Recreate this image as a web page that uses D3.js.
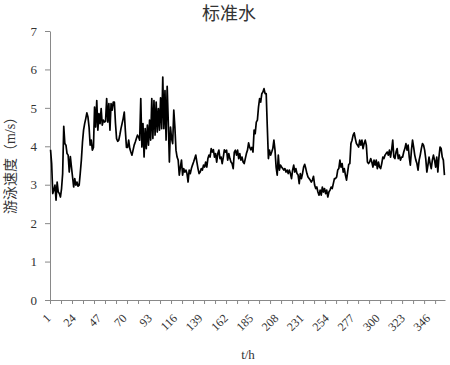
<!DOCTYPE html>
<html><head><meta charset="utf-8">
<script src="https://cdn.jsdelivr.net/npm/d3@7"></script>
<style>body{margin:0;background:#fff}svg{display:block}</style>
</head><body>
<script>
const title = "标准水";
const yTitle = "游泳速度（m/s）";
const xTitle = "t/h";
const yTicks = [0,1,2,3,4,5,6,7];
const xLabels = [1,24,47,70,93,116,139,162,185,208,231,254,277,300,323,346];
const seg1 = [3.91,3.55,2.77,2.86,2.99,2.6,3.07,2.81,2.77,2.68,
2.9,3.29,4.52,4.07,4.03,3.81,3.77,3.33,3.73,3.46,
3.2,2.94,3.16,2.99,3.07,2.96,2.99,3.3,3.64,4.1,
4.42,4.59,4.72,4.87,4.76,4.5,4.03,4.16,3.9,3.97,
5.02,4.5,5.19,4.42,4.85,4.59,4.98,4.55,4.68,4.63,
4.65,5.24,4.63,5.11,4.42,5.11,4.94,5.15,5.15,4.6,
4.2,4.13,4.16,4.3,4.46,4.59,4.72,4.89,4.4,3.97,
3.97,4.16,3.94,3.85,3.77,3.9,4.03,4.11,4.2,4.29,4.24];
const seg2 = [4.16,5.24,3.98,4.59,3.72,4.46,3.94,4.55,4.03,4.68,
4.16,5.24,4.2,5.19,4.29,5.15,4.37,4.98,4.42,5.26,
4.46,5.8,4.46,5.45,4.16,5.56,4.63,3.59,4.5,4.2,
4.07,4.94,4.5,3.9,3.72,3.64,3.25,3.46,3.64,3.25,
3.42,3.33,3.38,3.29,3.07,3.38,3.29,3.42,3.51,3.59,
3.68,3.77,3.59,3.42,3.29,3.33,3.42,3.38,3.51,3.46,
3.59,3.46,3.68,3.77,3.72,3.94,3.85,3.91,3.72,3.81,
3.59,3.81,3.9,3.68,3.72,3.55,3.72,3.91,3.85,3.9,
3.64,3.81,3.68,3.59,3.55,3.42,3.85,3.9,3.77,3.9,3.68];
const seg3 = [3.81,3.64,3.72,3.59,3.55,3.68,3.81,3.9,4.09,
3.97,3.91,3.97,3.85,4.42,4.33,4.63,4.68,5.02,
5.24,5.15,5.37,5.41,5.5,5.37,5.37,4.5,3.68,3.9,
3.77,3.85,3.94,4.16,3.9,3.46,3.25,3.77,3.38,3.51,
3.46,3.42,3.38,3.42,3.33,3.38,3.29,3.38,
3.29,3.16,3.38,3.51,3.33,3.42,3.29,3.25,3.03,
3.29,3.16,3.29,3.46,3.53,3.42,3.29,3.2,3.16,3.12,
3.07,3.12,3.22,2.99,2.9,2.94,2.81,2.73,2.86,
2.73,2.94,2.81,2.9,2.77,2.86,2.68,2.81,2.86,
2.94,2.9,3.03,3.16,3.16,3.2,3.38,3.42];
const seg4 = [3.64,3.46,3.55,3.33,3.42,3.25,3.12,3.33,3.53,
3.55,4.07,4.16,4.29,4.35,4.2,4.07,4.03,3.98,
4.16,4.03,4.16,3.94,4.07,4.16,4.03,3.59,3.55,3.59,
3.68,3.59,3.46,3.64,3.51,3.64,3.42,3.59,3.46,
3.42,3.55,3.72,3.68,3.77,3.81,3.85,3.77,
3.9,3.72,3.9,4.16,3.72,3.68,3.85,3.94,3.68,3.77,
3.64,3.72,3.72,3.85,3.94,4.07,3.9,4.03,3.72,
3.51,3.9,4.16,3.98,3.77,3.64,3.55,3.38,3.64,
3.77,3.94,4.07,4.03,3.9,3.68,3.33,3.51,3.72,
3.55,3.42,3.64,3.77,3.64,3.46,3.72,3.33,
3.72,3.98,3.94,3.72,3.64,3.25];
const speed = seg1.concat(seg2, seg3, seg4);
const hours = speed.map((d,i)=>i+1);

const W=450,H=365;
const svg=d3.select("body").append("svg").attr("width",W).attr("height",H);
const mLeft=50,mRight=445,mTop=31,mBottom=300;
const x=d3.scalePoint().domain(hours).range([mLeft,mRight]).padding(0.5);
const xb=d3.scaleLinear().domain([0,hours.length]).range([mLeft,mRight]);
const y=d3.scaleLinear().domain([0,7]).range([mBottom,mTop]);
const axisCol="#898989", textCol="#333";
const serif="'Liberation Serif','Times New Roman',serif";

// y axis
const ya=svg.append("g").attr("transform",`translate(${mLeft},0)`)
  .call(d3.axisLeft(y).tickValues(yTicks).tickSize(5).tickSizeOuter(0).tickPadding(8).tickFormat(d3.format("d")));
ya.attr("font-family",serif).attr("font-size",13);
ya.select(".domain").attr("stroke",axisCol);
ya.selectAll(".tick line").attr("stroke",axisCol);
ya.selectAll("text").attr("fill",textCol);

// x axis (tick marks every 10 categories at boundaries)
const xa=svg.append("g").attr("transform",`translate(0,${mBottom})`)
  .call(d3.axisBottom(xb).tickValues(d3.range(0,hours.length,10)).tickSize(4).tickSizeOuter(0).tickFormat(""));
xa.select(".domain").attr("stroke",axisCol);
xa.selectAll(".tick line").attr("stroke",axisCol);

svg.append("g").selectAll("text").data(xLabels).join("text")
  .attr("transform",d=>`translate(${x(d)-5},${mBottom+13}) rotate(-45)`)
  .attr("text-anchor","end").attr("dy","0.7em")
  .attr("font-family",serif).attr("font-size",12).attr("fill",textCol)
  .text(d=>d);

// line
svg.append("path").datum(speed)
  .attr("fill","none").attr("stroke","#000").attr("stroke-width",1.7).attr("stroke-linejoin","round")
  .attr("d",d3.line().x((d,i)=>x(hours[i])).y(d=>y(d)));

// titles
svg.append("text").attr("x",229).attr("y",20).attr("text-anchor","middle")
  .attr("font-family","'Noto Sans CJK SC',sans-serif").attr("font-size",18).attr("fill","#333").text(title);
svg.append("text").attr("transform","translate(15,162) rotate(-90)").attr("text-anchor","middle")
  .attr("font-family","'Liberation Serif','Noto Sans CJK SC',serif").attr("font-size",14).attr("fill",textCol).text(yTitle);
svg.append("text").attr("x",248).attr("y",359).attr("text-anchor","middle")
  .attr("font-family",serif).attr("font-size",13).attr("fill",textCol).text(xTitle);
</script>
</body></html>
